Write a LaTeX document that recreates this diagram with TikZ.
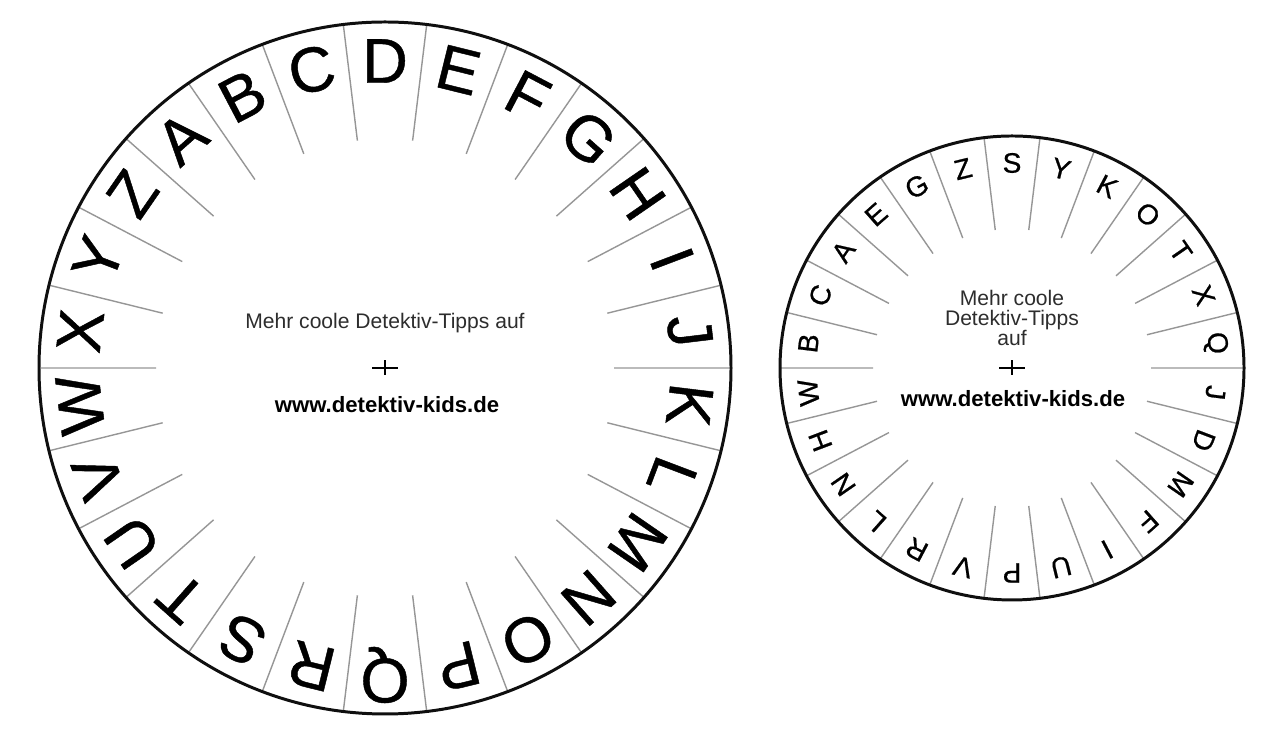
\documentclass[tikz,border=0pt]{standalone}
\usepackage{fontspec}
\setmainfont{Liberation Sans}
\newfontfamily\diskfont[FakeBold=0.7]{Liberation Sans}
\usetikzlibrary{positioning}
\definecolor{rimline}{RGB}{15, 15, 15}
\definecolor{tickgray}{RGB}{150, 150, 150}
\definecolor{infogray}{RGB}{45, 45, 45}

\tikzset{
  bigletter/.style={font=\diskfont\fontsize{36}{36}\selectfont, inner sep=0pt},
  smallletter/.style={font=\diskfont\fontsize{16}{16}\selectfont, inner sep=0pt},
  tickline/.style={draw=tickgray, line width=0.8pt},
  rim/.style={draw=rimline, line width=1.7pt},
  infotext/.style={font=\fontsize{12}{11.4}\selectfont, text=infogray, align=center, inner sep=0pt},
  urltext/.style={font=\fontsize{12.6}{12.6}\selectfont\bfseries, text=black, inner sep=0pt},
}

\begin{document}
\begin{tikzpicture}[x=0.02cm, y=0.02cm]
  \useasboundingbox (0,0) rectangle (1268,736);

  % large disk
  \begin{scope}[shift={(385,368)}]
    \foreach \k in {0,...,25}
      \draw[tickline] (90+6.923+\k*13.846:229) -- (90+6.923+\k*13.846:345);
    \draw[rim] (0,0) circle[radius=346];
    \foreach \L [count=\i from 0, evaluate=\i as \a using 90-(\i-3)*360/26] in {A,...,Z}
      \node[bigletter, rotate=\a-90] (big\L) at (\a:307) {\L};
    \node[infotext] (bigInfo) at (0,45) {Mehr coole Detektiv-Tipps auf};
    \node[urltext] (bigUrl) at (2,-37) {www.detektiv-kids.de};
    \draw[line width=1.4pt] (-13,0) -- (13,0);
    \draw[line width=0.6pt] (0,-7) -- (0,8);
  \end{scope}

  % small disk
  \begin{scope}[shift={(1012,368)}]
    \foreach \k in {0,...,25}
      \draw[tickline] (90+6.923+\k*13.846:139) -- (90+6.923+\k*13.846:231);
    \draw[rim] (0,0) circle[radius=232];
    \foreach \L [count=\i from 0, evaluate=\i as \a using 90-(\i-6)*360/26]
        in {B,C,A,E,G,Z,S,Y,K,O,T,X,Q,J,D,M,F,I,U,P,V,R,L,N,H,W}
      \node[smallletter, rotate=\a-90] (small\L) at (\a:205) {\L};
    \node[infotext] (smallInfo) at (0,50) {Mehr coole\\Detektiv-Tipps\\auf};
    \node[urltext] (smallUrl) at (1,-31) {www.detektiv-kids.de};
    \draw[line width=1.4pt] (-13,0) -- (13,0);
    \draw[line width=0.6pt] (0,-7) -- (0,8);
  \end{scope}
\end{tikzpicture}
\end{document}
